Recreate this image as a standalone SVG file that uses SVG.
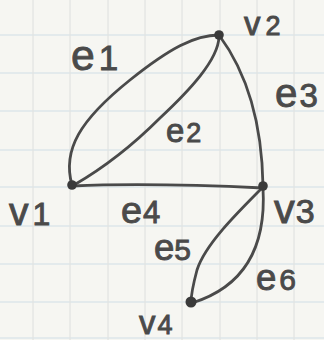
<svg xmlns="http://www.w3.org/2000/svg" width="324" height="340" viewBox="0 0 324 340">
<style>
.bg{fill:#f6f6f2}
.gh{stroke:#cfdde6;stroke-width:1.2;fill:none}
.gv{stroke:#e2e3e2;stroke-width:1.2;fill:none}
.edge{fill:none;stroke:#4a4a4a;stroke-width:2.8;stroke-linecap:round}
.dot{fill:#3a3a3a}
.lbl{font-family:"Liberation Sans",Arial,sans-serif;fill:#4a4a4a;stroke:#4a4a4a;stroke-width:0.9}
.l{font-size:122%}
</style>
<rect class="bg" width="324" height="340"/>
<g id="grid">
<path class="gh" d="M0 35H324M0 73H324M0 111H324M0 150H324M0 187H324M0 226H324M0 264H324M0 302H324M0 338H324"/>
<path class="gv" d="M33 0V340M70 0V340M108 0V340M145 0V340M182 0V340M220 0V340M257 0V340M294 0V340"/>
</g>
<g id="connectors">
<g id="e1"><path class="edge" d="M72 185C62 150 80 120 130 80C170 48 195 35 219 35"/><text class="lbl" x="71" y="70" font-size="35"><tspan class="l">e</tspan><tspan dx="4">1</tspan></text></g>
<g id="e2"><path class="edge" d="M219 37C218 60 190 90 160 118C130 148 100 170 74 185"/><text class="lbl" x="166" y="142" font-size="27"><tspan class="l">e</tspan><tspan dx="2">2</tspan></text></g>
<g id="e3"><path class="edge" d="M219 35C245 70 262 120 263 186"/><text class="lbl" x="275" y="107" font-size="33"><tspan class="l">e</tspan><tspan dx="2">3</tspan></text></g>
<g id="e4"><path class="edge" d="M72 186C140 183 200 185 263 188"/><text class="lbl" x="121" y="223" font-size="31"><tspan class="l">e</tspan><tspan dx="1">4</tspan></text></g>
<g id="e5"><path class="edge" d="M263 187C235 215 205 245 197 270C193 285 191 295 191 303"/><text class="lbl" x="154" y="260" font-size="30"><tspan class="l">e</tspan><tspan dx="0">5</tspan></text></g>
<g id="e6"><path class="edge" d="M263 188C266 240 250 285 192 303"/><text class="lbl" x="256" y="290" font-size="30"><tspan class="l">e</tspan><tspan dx="3">6</tspan></text></g>
</g>
<g id="v1"><circle class="dot" cx="72" cy="185" r="4.8"/><text class="lbl" x="9" y="225" font-size="32"><tspan class="l">v</tspan><tspan dx="4">1</tspan></text></g>
<g id="v2"><circle class="dot" cx="219" cy="35" r="4.8"/><text class="lbl" x="244" y="35" font-size="27"><tspan class="l">v</tspan><tspan dx="5">2</tspan></text></g>
<g id="v3"><circle class="dot" cx="263" cy="186" r="4.8"/><text class="lbl" x="274" y="223" font-size="34"><tspan class="l">v</tspan><tspan dx="1">3</tspan></text></g>
<g id="v4"><circle class="dot" cx="191" cy="302" r="5.5"/><text class="lbl" x="139" y="334" font-size="27"><tspan class="l">v</tspan><tspan dx="2">4</tspan></text></g>
</svg>
